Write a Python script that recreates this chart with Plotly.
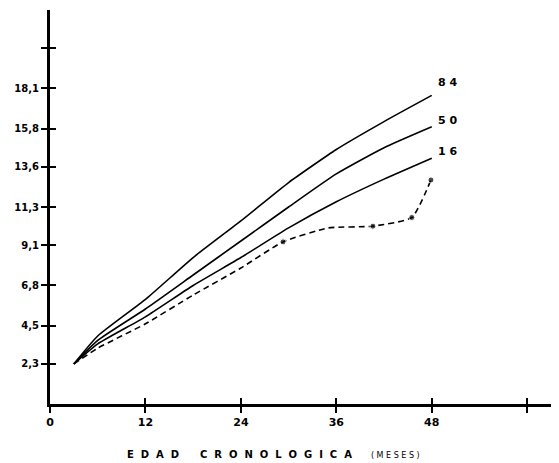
import plotly.graph_objects as go

# Percentile curves (weight in kg vs age in months)
months = [3, 6, 12, 18, 24, 30, 36, 42, 48]
p84 = [2.3, 3.9, 6.0, 8.4, 10.5, 12.7, 14.6, 16.2, 17.7]
p50 = [2.3, 3.65, 5.45, 7.4, 9.35, 11.3, 13.2, 14.7, 15.9]
p16 = [2.3, 3.45, 5.0, 6.8, 8.4, 10.1, 11.6, 12.9, 14.1]
pct_labels = ["84", "50", "16"]

# Observed patient (dashed)
obs_months = [3, 6, 12, 18, 24, 29.3, 35, 40.6, 45.5, 47.9]
obs_weight = [2.3, 3.2, 4.6, 6.25, 7.8, 9.3, 10.1, 10.2, 10.7, 12.85]
marked_months = [29.3, 40.6, 45.5, 47.9]

# Axis ticks
y_tickvals = [2.3, 4.5, 6.8, 9.1, 11.3, 13.6, 15.8, 18.1, 20.4]
y_ticktext = ["2,3", "4,5", "6,8", "9,1", "11,3", "13,6", "15,8", "18,1", ""]
x_tickvals = [0, 12, 24, 36, 48, 60]
x_ticktext = ["0", "12", "24", "36", "48", ""]

FONT = "DejaVu Sans"
fig = go.Figure()

for vals in (p84, p50, p16):
    fig.add_trace(go.Scatter(x=months, y=vals, mode="lines",
                             line=dict(color="black", width=1.6, shape="spline", smoothing=0.5),
                             showlegend=False, hoverinfo="skip"))

sizes = [6 if m in marked_months else 0 for m in obs_months]
fig.add_trace(go.Scatter(x=obs_months, y=obs_weight, mode="lines+markers",
                         line=dict(color="black", width=1.6, dash="6px,4px", shape="spline", smoothing=0.5),
                         marker=dict(color="black", size=sizes),
                         showlegend=False, hoverinfo="skip"))

# dummy trace for overlay axes (crossing ticks)
fig.add_trace(go.Scatter(x=[None], y=[None], xaxis="x2", yaxis="y2", showlegend=False))

for lab, vals, ys in zip(pct_labels, (p84, p50, p16), (10, 4, 4)):
    fig.add_annotation(x=months[-1], y=vals[-1], text="<b>" + "&nbsp;".join(lab) + "</b>", showarrow=False,
                       xanchor="left", yanchor="bottom", xshift=4, yshift=ys - 6,
                       font=dict(family=FONT, size=11, color="black"))

sp = "&nbsp;"
title_main = (sp * 2).join("EDAD") + sp * 6 + (sp * 2).join("CRONOLOGICA")
title_sub = sp.join("(MESES)")
fig.add_annotation(x=0.44, y=-0.147, xref="paper", yref="paper", showarrow=False,
                   text="<b>" + title_main + "</b>" + sp * 6 + "<span style='font-size:8px'>" + title_sub + "</span>",
                   font=dict(family=FONT, size=10, color="black"))

xr = [0, 64]
yr = [0, 22.6]
tick_common = dict(showgrid=False, zeroline=False, ticklen=6, tickwidth=1.5, tickcolor="black")
fig.update_layout(
    width=551, height=455,
    margin=dict(l=42, r=0, t=2, b=59),
    paper_bgcolor="white", plot_bgcolor="white",
    font=dict(family=FONT, size=11, color="black"),
    xaxis=dict(range=xr, tickvals=x_tickvals, ticktext=x_ticktext,
               showline=True, linewidth=3, linecolor="black", ticks="outside",
               tickfont=dict(family=FONT, size=11, weight="bold"), **tick_common),
    yaxis=dict(range=yr, tickvals=y_tickvals, ticktext=y_ticktext,
               showline=True, linewidth=3, linecolor="black", ticks="outside",
               tickfont=dict(family=FONT, size=10, weight="bold"), **tick_common),
    xaxis2=dict(range=xr, overlaying="x", anchor="y2", tickvals=x_tickvals,
                showticklabels=False, ticks="inside", **tick_common),
    yaxis2=dict(range=yr, overlaying="y", anchor="x2", tickvals=y_tickvals,
                showticklabels=False, ticks="inside", **tick_common),
)

fig.write_html("out.html")
